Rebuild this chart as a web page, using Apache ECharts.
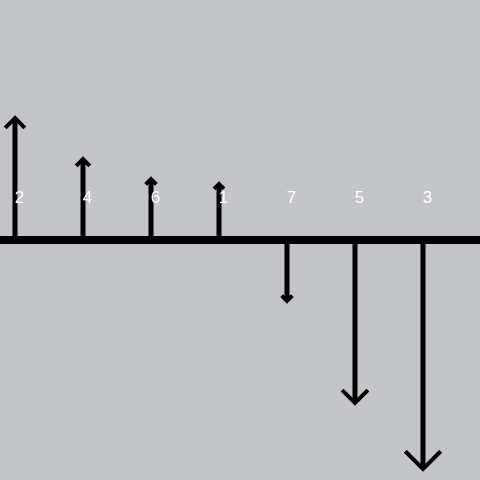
<!DOCTYPE html>
<html><head><meta charset="utf-8">
<script src="https://cdn.jsdelivr.net/npm/echarts@6/dist/echarts.min.js"></script>
<style>html,body{margin:0;padding:0;background:#c4c5c9}#c{width:480px;height:480px}</style>
</head><body><div id="c"></div>
<script>
var labels = ['2', '4', '6', '1', '7', '5', '3'];
var values = [122, 81, 61, 56, -61, -163, -229];
var positions = [0, 1, 2, 3, 4, 5, 6];

var chart = echarts.init(document.getElementById('c'), null, {renderer: 'canvas'});
var data = positions.map(function (p, i) { return [p, values[i], labels[i]]; });

chart.setOption({
  backgroundColor: '#c4c5c9',
  animation: false,
  grid: {left: 0, right: 0, top: 0, bottom: 0},
  xAxis: {
    type: 'value', min: -15 / 68, max: 465 / 68,
    splitLine: {show: false}, axisTick: {show: false}, axisLabel: {show: false},
    axisLine: {show: true, onZero: true, lineStyle: {color: '#000', width: 8}}
  },
  yAxis: {
    type: 'value', min: -240, max: 240,
    splitLine: {show: false}, axisTick: {show: false}, axisLabel: {show: false},
    axisLine: {show: false}
  },
  series: [{
    type: 'custom',
    data: data,
    z: 5,
    renderItem: function (params, api) {
      var i = api.value(0), v = api.value(1);
      var base = api.coord([i, 0]);
      var tip = api.coord([i, v]);
      var lab = api.coord([i, 42]);
      var L = Math.abs(tip[1] - base[1]);
      var dir = v >= 0 ? -1 : 1;
      var a = 0.074 * L + 0.8;
      return {
        type: 'group',
        children: [
          {type: 'line', shape: {x1: base[0], y1: base[1], x2: tip[0], y2: tip[1] - dir * 1},
           style: {stroke: '#000', lineWidth: 5}},
          {type: 'polyline', shape: {points: [[tip[0] - a, tip[1] - dir * a], [tip[0], tip[1]], [tip[0] + a, tip[1] - dir * a]]},
           style: {stroke: '#000', fill: null, lineWidth: 4, lineJoin: 'miter'}},
          {type: 'text', x: lab[0] + 4.5, y: lab[1],
           style: {text: api.value(2), fill: '#fff', font: '17px "Liberation Sans", Arial, sans-serif', align: 'center', verticalAlign: 'middle'}}
        ]
      };
    }
  }]
});
</script></body></html>
